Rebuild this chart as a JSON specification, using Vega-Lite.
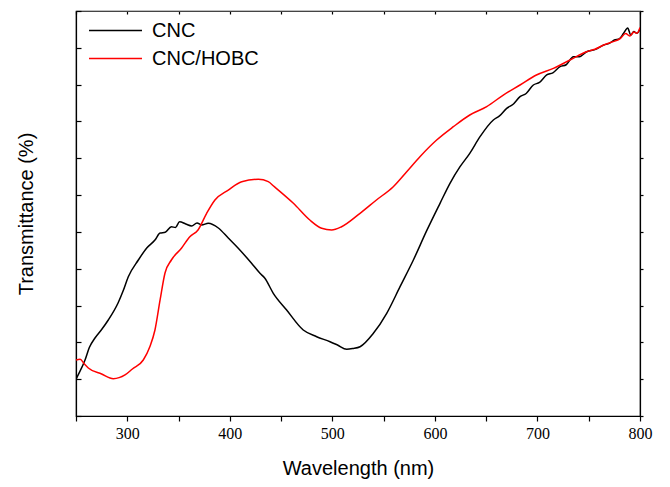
{
  "$schema": "https://vega.github.io/schema/vega-lite/v6.json",
  "width": 564,
  "height": 405,
  "autosize": {"type": "none"},
  "padding": {"left": 76, "top": 11, "right": 30, "bottom": 71},
  "background": "white",
  "config": {
    "view": {"stroke": "black", "strokeWidth": 1.2},
    "font": "Liberation Sans"
  },
  "data": {"values": [
    {"series": "CNC", "wl": 250.0, "t": 9.9},
    {"series": "CNC", "wl": 250.7, "t": 10.32},
    {"series": "CNC", "wl": 258.8, "t": 15.21},
    {"series": "CNC", "wl": 263, "t": 18.6},
    {"series": "CNC", "wl": 268.5, "t": 21.18},
    {"series": "CNC", "wl": 275, "t": 23.5},
    {"series": "CNC", "wl": 281.5, "t": 26.07},
    {"series": "CNC", "wl": 291, "t": 30.69},
    {"series": "CNC", "wl": 296, "t": 34.0},
    {"series": "CNC", "wl": 301, "t": 37.83},
    {"series": "CNC", "wl": 310.8, "t": 42.37},
    {"series": "CNC", "wl": 319, "t": 45.63},
    {"series": "CNC", "wl": 327, "t": 47.8},
    {"series": "CNC", "wl": 332, "t": 49.7},
    {"series": "CNC", "wl": 337, "t": 49.9},
    {"series": "CNC", "wl": 343, "t": 51.41},
    {"series": "CNC", "wl": 347, "t": 51.2},
    {"series": "CNC", "wl": 351, "t": 52.77},
    {"series": "CNC", "wl": 357, "t": 52.15},
    {"series": "CNC", "wl": 362.8, "t": 51.6},
    {"series": "CNC", "wl": 368, "t": 52.42},
    {"series": "CNC", "wl": 372.5, "t": 51.88},
    {"series": "CNC", "wl": 379, "t": 52.34},
    {"series": "CNC", "wl": 388.8, "t": 51.06},
    {"series": "CNC", "wl": 398.5, "t": 48.34},
    {"series": "CNC", "wl": 408, "t": 45.63},
    {"series": "CNC", "wl": 421, "t": 41.55},
    {"series": "CNC", "wl": 429.4, "t": 38.76},
    {"series": "CNC", "wl": 434, "t": 37.48},
    {"series": "CNC", "wl": 442.4, "t": 33.33},
    {"series": "CNC", "wl": 455.4, "t": 28.79},
    {"series": "CNC", "wl": 471.6, "t": 23.36},
    {"series": "CNC", "wl": 484.7, "t": 21.54},
    {"series": "CNC", "wl": 497.7, "t": 20.18},
    {"series": "CNC", "wl": 505, "t": 19.28},
    {"series": "CNC", "wl": 514, "t": 18.12},
    {"series": "CNC", "wl": 520, "t": 18.33},
    {"series": "CNC", "wl": 527, "t": 18.82},
    {"series": "CNC", "wl": 540, "t": 22.46},
    {"series": "CNC", "wl": 553, "t": 27.89},
    {"series": "CNC", "wl": 566, "t": 35.12},
    {"series": "CNC", "wl": 579, "t": 42.37},
    {"series": "CNC", "wl": 592, "t": 50.33},
    {"series": "CNC", "wl": 605, "t": 57.77},
    {"series": "CNC", "wl": 614.7, "t": 63.2},
    {"series": "CNC", "wl": 624.5, "t": 67.71},
    {"series": "CNC", "wl": 634, "t": 71.35},
    {"series": "CNC", "wl": 644, "t": 75.86},
    {"series": "CNC", "wl": 657, "t": 80.39},
    {"series": "CNC", "wl": 663, "t": 81.5},
    {"series": "CNC", "wl": 670, "t": 83.57},
    {"series": "CNC", "wl": 676, "t": 84.6},
    {"series": "CNC", "wl": 683, "t": 86.72},
    {"series": "CNC", "wl": 689, "t": 87.6},
    {"series": "CNC", "wl": 696, "t": 89.9},
    {"series": "CNC", "wl": 702, "t": 90.6},
    {"series": "CNC", "wl": 709, "t": 92.62},
    {"series": "CNC", "wl": 715, "t": 93.2},
    {"series": "CNC", "wl": 722, "t": 94.87},
    {"series": "CNC", "wl": 728, "t": 95.4},
    {"series": "CNC", "wl": 735, "t": 97.59},
    {"series": "CNC", "wl": 741, "t": 97.6},
    {"series": "CNC", "wl": 748, "t": 98.94},
    {"series": "CNC", "wl": 756, "t": 99.5},
    {"series": "CNC", "wl": 764.7, "t": 100.76},
    {"series": "CNC", "wl": 770, "t": 101.2},
    {"series": "CNC", "wl": 775, "t": 102.12},
    {"series": "CNC", "wl": 780, "t": 102.5},
    {"series": "CNC", "wl": 784, "t": 103.94},
    {"series": "CNC", "wl": 788, "t": 105.38},
    {"series": "CNC", "wl": 791, "t": 103.48},
    {"series": "CNC", "wl": 794, "t": 104.4},
    {"series": "CNC", "wl": 797, "t": 103.94},
    {"series": "CNC", "wl": 800, "t": 105.11},
    {"series": "CNC/HOBC", "wl": 250, "t": 15.21},
    {"series": "CNC/HOBC", "wl": 254, "t": 15.4},
    {"series": "CNC/HOBC", "wl": 258, "t": 14.2},
    {"series": "CNC/HOBC", "wl": 262, "t": 13.04},
    {"series": "CNC/HOBC", "wl": 275, "t": 11.41},
    {"series": "CNC/HOBC", "wl": 286.4, "t": 10.13},
    {"series": "CNC/HOBC", "wl": 297.8, "t": 11.14},
    {"series": "CNC/HOBC", "wl": 305, "t": 12.77},
    {"series": "CNC/HOBC", "wl": 315.6, "t": 15.21},
    {"series": "CNC/HOBC", "wl": 322, "t": 18.82},
    {"series": "CNC/HOBC", "wl": 327, "t": 23.36},
    {"series": "CNC/HOBC", "wl": 332, "t": 31.51},
    {"series": "CNC/HOBC", "wl": 336.8, "t": 38.84},
    {"series": "CNC/HOBC", "wl": 343, "t": 42.37},
    {"series": "CNC/HOBC", "wl": 353, "t": 45.63},
    {"series": "CNC/HOBC", "wl": 361, "t": 48.7},
    {"series": "CNC/HOBC", "wl": 369, "t": 50.52},
    {"series": "CNC/HOBC", "wl": 377.4, "t": 55.05},
    {"series": "CNC/HOBC", "wl": 385.5, "t": 58.67},
    {"series": "CNC/HOBC", "wl": 398.5, "t": 61.38},
    {"series": "CNC/HOBC", "wl": 411.6, "t": 63.64},
    {"series": "CNC/HOBC", "wl": 427.8, "t": 64.29},
    {"series": "CNC/HOBC", "wl": 437.5, "t": 63.64},
    {"series": "CNC/HOBC", "wl": 443.4, "t": 62.28},
    {"series": "CNC/HOBC", "wl": 462, "t": 57.77},
    {"series": "CNC/HOBC", "wl": 478, "t": 53.23},
    {"series": "CNC/HOBC", "wl": 489.6, "t": 50.98},
    {"series": "CNC/HOBC", "wl": 499.3, "t": 50.52},
    {"series": "CNC/HOBC", "wl": 509, "t": 51.41},
    {"series": "CNC/HOBC", "wl": 527, "t": 55.05},
    {"series": "CNC/HOBC", "wl": 543, "t": 58.67},
    {"series": "CNC/HOBC", "wl": 559.4, "t": 62.28},
    {"series": "CNC/HOBC", "wl": 572.5, "t": 66.35},
    {"series": "CNC/HOBC", "wl": 585.4, "t": 70.43},
    {"series": "CNC/HOBC", "wl": 601.7, "t": 74.96},
    {"series": "CNC/HOBC", "wl": 618, "t": 78.57},
    {"series": "CNC/HOBC", "wl": 634, "t": 81.75},
    {"series": "CNC/HOBC", "wl": 650.5, "t": 84.01},
    {"series": "CNC/HOBC", "wl": 666.7, "t": 87.18},
    {"series": "CNC/HOBC", "wl": 683, "t": 89.9},
    {"series": "CNC/HOBC", "wl": 699, "t": 92.62},
    {"series": "CNC/HOBC", "wl": 715.5, "t": 94.43},
    {"series": "CNC/HOBC", "wl": 731.7, "t": 96.69},
    {"series": "CNC/HOBC", "wl": 748, "t": 98.94},
    {"series": "CNC/HOBC", "wl": 756, "t": 99.6},
    {"series": "CNC/HOBC", "wl": 764.7, "t": 100.76},
    {"series": "CNC/HOBC", "wl": 772, "t": 101.5},
    {"series": "CNC/HOBC", "wl": 781, "t": 102.58},
    {"series": "CNC/HOBC", "wl": 786, "t": 103.9},
    {"series": "CNC/HOBC", "wl": 790, "t": 103.21},
    {"series": "CNC/HOBC", "wl": 794, "t": 104.3},
    {"series": "CNC/HOBC", "wl": 797, "t": 103.94},
    {"series": "CNC/HOBC", "wl": 800, "t": 105.5}
  ]},
  "layer": [
    {
      "mark": {"type": "line", "strokeWidth": 1.5, "clip": true, "interpolate": "monotone"},
      "encoding": {
        "x": {
          "field": "wl", "type": "quantitative",
          "scale": {"domain": [250, 800], "nice": false, "zero": false},
          "axis": {
            "orient": "bottom",
            "title": "Wavelength (nm)",
            "titleFont": "Liberation Sans", "titleFontSize": 20, "titleFontWeight": "normal", "titleColor": "black",
            "titlePadding": 17,
            "values": [250, 300, 350, 400, 450, 500, 550, 600, 650, 700, 750, 800],
            "labelExpr": "datum.value % 100 === 0 ? datum.label : ''",
            "labelFlush": false, "labelOverlap": false, "labelBound": false,
            "labelFont": "Liberation Serif", "labelFontSize": 16, "labelColor": "black", "labelPadding": 4,
            "tickColor": "black", "tickSize": 5, "tickWidth": 1.2,
            "domainColor": "black", "domainWidth": 1.2,
            "grid": false
          }
        },
        "y": {
          "field": "t", "type": "quantitative",
          "scale": {"domain": [0, 110], "nice": false, "zero": false},
          "axis": {
            "orient": "left",
            "title": "Transmittance (%)",
            "titleFont": "Liberation Sans", "titleFontSize": 20, "titleFontWeight": "normal", "titleColor": "black",
            "titlePadding": 39,
            "values": [0, 10, 20, 30, 40, 50, 60, 70, 80, 90, 100, 110],
            "labels": false,
            "tickColor": "black", "tickSize": -5, "tickWidth": 1.2,
            "domainColor": "black", "domainWidth": 1.2,
            "grid": false
          }
        },
        "color": {
          "field": "series", "type": "nominal",
          "scale": {"domain": ["CNC", "CNC/HOBC"], "range": ["#000000", "#ff0000"]},
          "legend": {
            "orient": "none", "legendX": 24, "legendY": 4,
            "title": null,
            "symbolType": "M-1.8,0H1.8", "symbolSize": 866, "symbolStrokeWidth": 1.5,
            "labelFont": "Liberation Sans", "labelFontSize": 20, "labelColor": "black",
            "labelOffset": 21, "rowPadding": 2
          }
        }
      }
    },
    {
      "mark": {"type": "line", "opacity": 0},
      "encoding": {
        "x": {
          "field": "wl", "type": "quantitative",
          "axis": {
            "orient": "top", "title": null, "labels": false,
            "values": [250, 300, 350, 400, 450, 500, 550, 600, 650, 700, 750, 800],
            "tickColor": "black", "tickSize": -3, "tickWidth": 1.2,
            "domainColor": "#444444", "domainWidth": 1.2, "grid": false
          }
        },
        "y": {
          "field": "t", "type": "quantitative",
          "axis": {
            "orient": "right", "title": null, "labels": false,
            "values": [0, 10, 20, 30, 40, 50, 60, 70, 80, 90, 100, 110],
            "tickColor": "black", "tickSize": 3, "tickWidth": 1.2,
            "domainColor": "black", "domainWidth": 1.2, "grid": false
          }
        },
        "detail": {"field": "series"}
      }
    }
  ],
  "resolve": {"axis": {"x": "independent", "y": "independent"}}
}
